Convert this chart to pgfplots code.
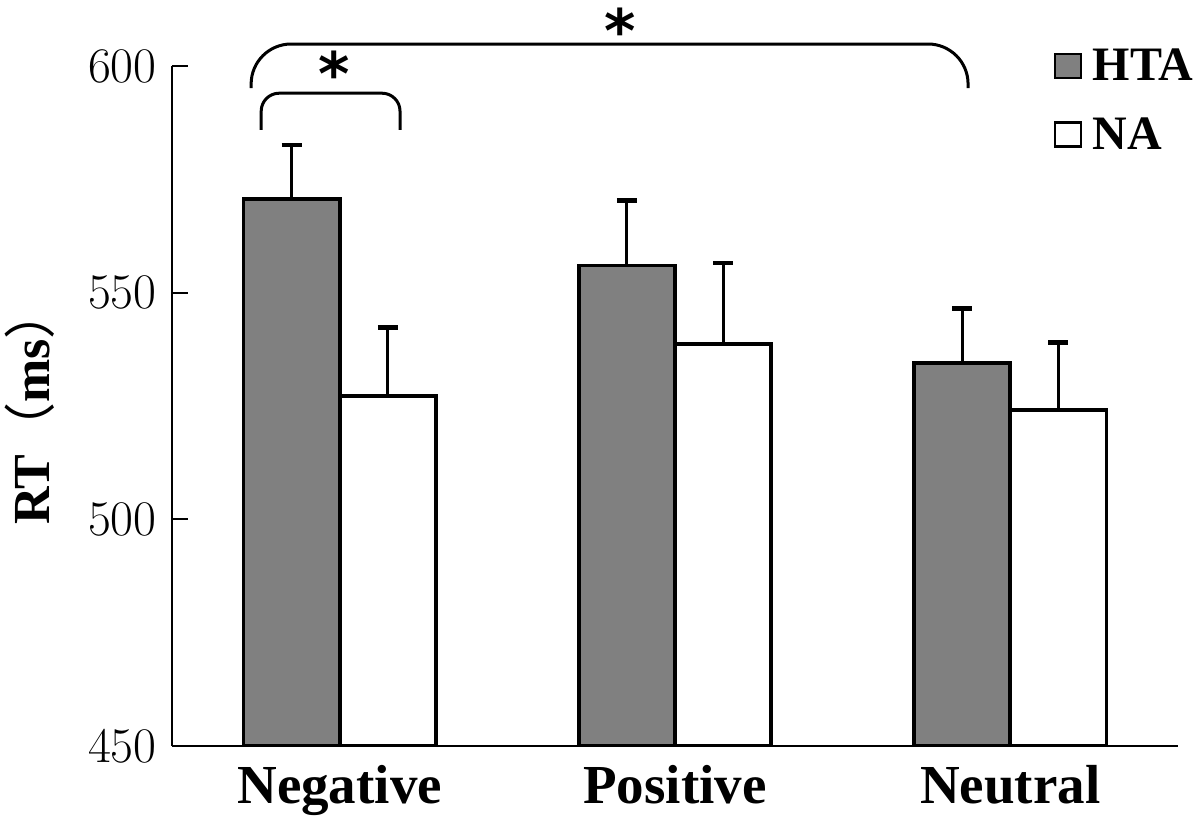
\documentclass[border=0pt]{standalone}
\usepackage{fontspec}
\setmainfont{Liberation Serif}
\newfontfamily\cjk{Noto Sans CJK SC}
\newfontfamily\djv{DejaVu Sans}
\usepackage{pgfplots}
\pgfplotsset{compat=1.18}
\definecolor{htagray}{RGB}{128,128,128}
\begin{document}
\begin{tikzpicture}
\path[use as bounding box] (-86pt,-37pt) rectangle (514pt,373pt);
\begin{axis}[
  scale only axis,
  width=503pt, height=340pt,
  xmin=-0.5, xmax=2.5,
  ymin=450, ymax=600,
  axis x line=bottom, axis y line=left,
  axis line style={-, line width=1pt, black},
  clip mode=individual,
  xtick={0,1,2},
  xticklabels={Negative,Positive,Neutral},
  major x tick style={draw=none},
  extra x ticks={0.5,1.5,2.5},
  extra x tick labels={},
  extra x tick style={major tick length=7.5pt, tick style={line width=1pt, black}},
  ytick={450,500,550,600},
  major tick length=8pt,
  ytick style={line width=1pt, black},
  tick align=inside,
  xticklabel style={font=\fontsize{27.5}{30}\selectfont\bfseries, anchor=base, yshift=-28.5pt},
  yticklabel style={font=\fontsize{27}{30}\selectfont, anchor=east, inner sep=0pt, xshift=-7.5pt},
  ylabel={\textbf{RT}{\cjk （}\textbf{ms}{\cjk ）}},
  ylabel style={font=\fontsize{26}{30}\selectfont, at={(axis description cs:-0.141,0.5)}, anchor=center, rotate=0},
  legend style={draw=none, fill=none, at={(axis description cs:0.876,1.032)}, anchor=north west,
    font=\fontsize{24}{28}\selectfont\bfseries, inner sep=0pt, row sep=13pt,
    nodes={inner sep=2pt}},
  legend cell align=left,
  legend image code/.code={\draw[#1, line width=1.4pt] (0pt,-6pt) rectangle (13pt,6pt); \path (16pt,0pt);},
  bar width=0.287,
]
\addplot[ybar, bar shift=0pt, fill=htagray, draw=black, line width=1.9pt,
  error bars/.cd, y dir=plus, y explicit, error mark=|,
  error bar style={line width=1.5pt, black},
  error mark options={line width=2.2pt, mark size=5pt, black}]
  table[x=x, y=y, y error=e] {
x y e
-0.1435 570.7 11.9
0.8565 556.0 14.3
1.8565 534.5 12.0
};
\addlegendentry{HTA}
\addplot[ybar, bar shift=0pt, fill=white, draw=black, line width=1.9pt,
  error bars/.cd, y dir=plus, y explicit, error mark=|,
  error bar style={line width=1.5pt, black},
  error mark options={line width=2.2pt, mark size=5pt, black}]
  table[x=x, y=y, y error=e] {
x y e
0.1435 527.2 15.1
1.1435 538.7 17.9
2.1435 524.1 14.9
};
\addlegendentry{NA}
\draw[line width=1.5pt, rounded corners=20pt] (axis cs:-0.264,595.1) -- (axis cs:-0.264,604.85) -- (axis cs:1.874,604.85) -- (axis cs:1.874,595.1);
\draw[line width=1.5pt, rounded corners=9pt] (axis cs:-0.234,585.9) -- (axis cs:-0.234,594.0) -- (axis cs:0.180,594.0) -- (axis cs:0.180,585.9);
\node[font=\fontsize{30}{30}\selectfont\djv\bfseries, inner sep=0pt] at (axis cs:0.837,607.9) {*};
\node[font=\fontsize{30}{30}\selectfont\djv\bfseries, inner sep=0pt] at (axis cs:-0.016,598.5) {*};
\end{axis}
\end{tikzpicture}
\end{document}
